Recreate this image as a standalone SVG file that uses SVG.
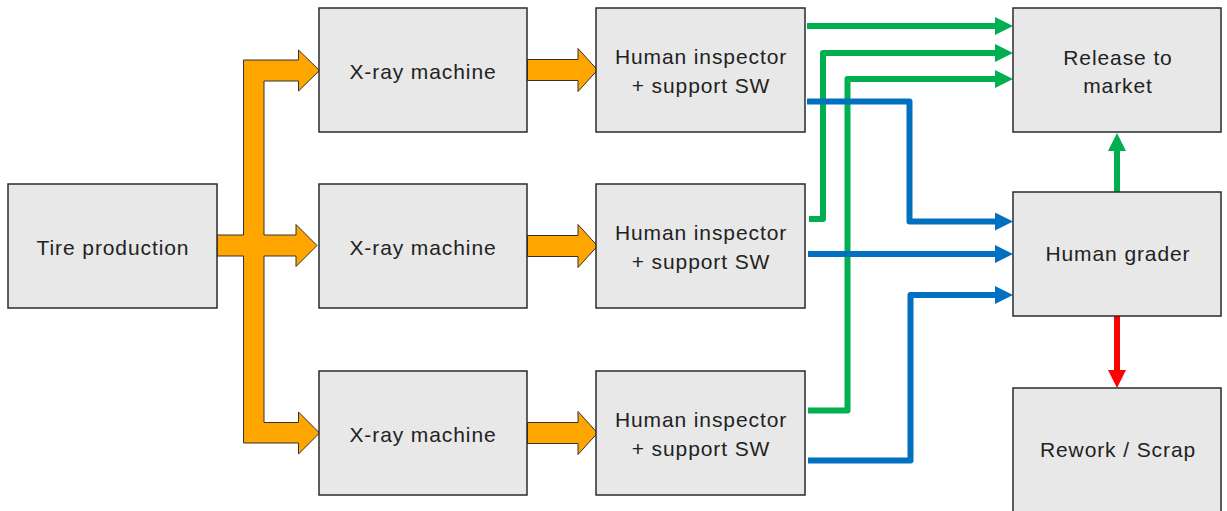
<svg xmlns="http://www.w3.org/2000/svg" width="1227" height="511" viewBox="0 0 1227 511">
<style>
.box{fill:#E8E8E8;stroke:#2b2b2b;stroke-width:1.5}
.lbl{font-family:"Liberation Sans",Arial,sans-serif;font-size:21px;fill:#222;text-anchor:middle;letter-spacing:0.9px}
.orange{fill:#FFA500;stroke:#333;stroke-width:1}
.g{fill:none;stroke:#00B050;stroke-width:6;stroke-linejoin:round}
.b{fill:none;stroke:#0070C0;stroke-width:6;stroke-linejoin:round}
.r{fill:none;stroke:#FF0000;stroke-width:6}
</style>
<defs>
<marker id="mg" markerUnits="userSpaceOnUse" markerWidth="18" markerHeight="18" refX="0" refY="9" orient="auto" viewBox="0 0 18 18"><path d="M0,0 L18,9 L0,18 Z" fill="#00B050"/></marker>
<marker id="mb" markerUnits="userSpaceOnUse" markerWidth="18" markerHeight="18" refX="0" refY="9" orient="auto" viewBox="0 0 18 18"><path d="M0,0 L18,9 L0,18 Z" fill="#0070C0"/></marker>
<marker id="mr" markerUnits="userSpaceOnUse" markerWidth="18" markerHeight="18" refX="0" refY="9" orient="auto" viewBox="0 0 18 18"><path d="M0,0 L18,9 L0,18 Z" fill="#FF0000"/></marker>
<path id="smallArrow" d="M527.5,59.5 H578 V48.5 L597.5,70 L578,91.5 V80.5 H527.5 Z"/>
</defs>
<rect width="1227" height="511" fill="#fff"/>

<g id="connectors">
<path class="orange" d="M243.5,60 H298.5 V50 L319.5,70.5 L298.5,91 V81 H264 V235 H296 V224.5 L317,245.5 L296,266.5 V256 H264 V422.5 H298.5 V412 L319.5,433 L298.5,454 V443 H243.5 V256 H217 V235 H243.5 Z"/>
<use href="#smallArrow" class="orange"/>
<use href="#smallArrow" class="orange" transform="translate(0,176)"/>
<use href="#smallArrow" class="orange" transform="translate(0,363)"/>
<path class="g" d="M807,26 H995" marker-end="url(#mg)"/>
<path class="g" d="M809,219 H823 V53 H995" marker-end="url(#mg)"/>
<path class="g" d="M808,410.5 H847.5 V79 H995" marker-end="url(#mg)"/>
<path class="g" d="M1117,192 V151" marker-end="url(#mg)"/>
<path class="b" d="M807,101.5 H909.5 V221.5 H995" marker-end="url(#mb)"/>
<path class="b" d="M808,254 H995" marker-end="url(#mb)"/>
<path class="b" d="M808,460.5 H910.5 V295 H995" marker-end="url(#mb)"/>
<path class="r" d="M1117,316 V370" marker-end="url(#mr)"/>
</g>

<g id="tire"><rect class="box" x="8" y="184" width="209" height="124"/><text class="lbl" x="113" y="255">Tire production</text></g>
<g id="xray1"><rect class="box" x="319" y="8" width="208" height="124"/><text class="lbl" x="423" y="79">X-ray machine</text></g>
<g id="xray2"><rect class="box" x="319" y="184" width="208" height="124"/><text class="lbl" x="423" y="255">X-ray machine</text></g>
<g id="xray3"><rect class="box" x="319" y="371" width="208" height="124"/><text class="lbl" x="423" y="442">X-ray machine</text></g>
<g id="insp1"><rect class="box" x="596" y="8" width="209" height="124"/><text class="lbl" x="701" y="64">Human inspector</text><text class="lbl" x="701" y="93">+ support SW</text></g>
<g id="insp2"><rect class="box" x="596" y="184" width="209" height="124"/><text class="lbl" x="701" y="240">Human inspector</text><text class="lbl" x="701" y="269">+ support SW</text></g>
<g id="insp3"><rect class="box" x="596" y="371" width="209" height="124"/><text class="lbl" x="701" y="427">Human inspector</text><text class="lbl" x="701" y="456">+ support SW</text></g>
<g id="release"><rect class="box" x="1013" y="8" width="208" height="124"/><text class="lbl" x="1118" y="65">Release to</text><text class="lbl" x="1118" y="93">market</text></g>
<g id="grader"><rect class="box" x="1013" y="192" width="208" height="124"/><text class="lbl" x="1118" y="261">Human grader</text></g>
<g id="rework"><rect class="box" x="1013" y="388" width="208" height="130"/><text class="lbl" x="1118" y="457">Rework / Scrap</text></g>
</svg>
